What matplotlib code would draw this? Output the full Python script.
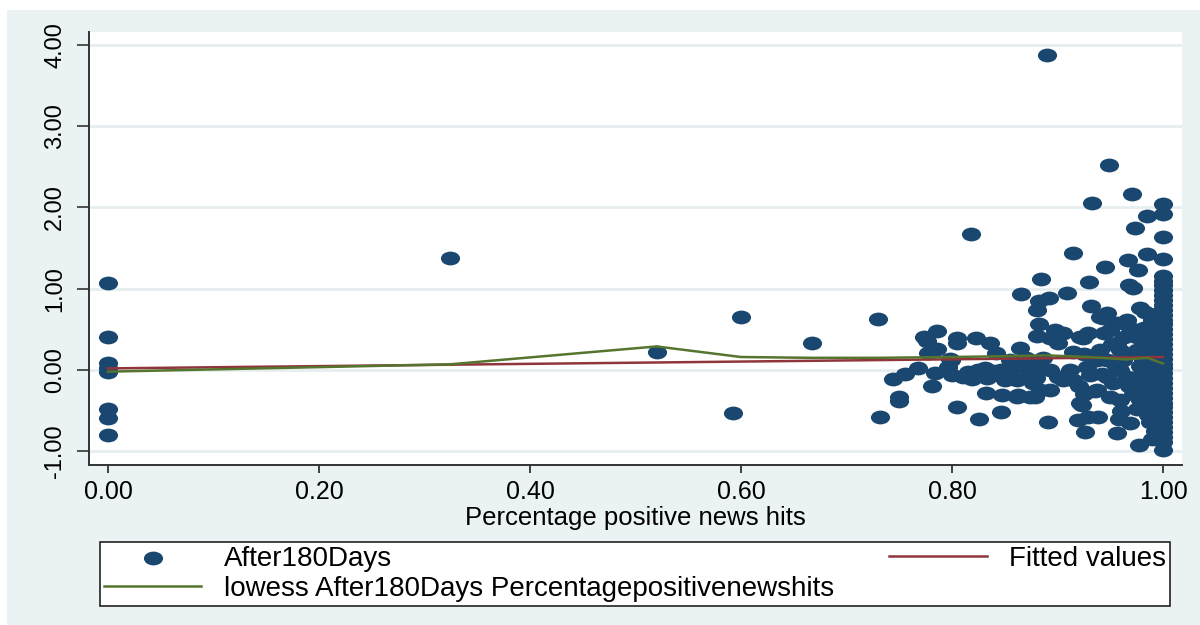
import matplotlib.pyplot as plt
import numpy as np
from matplotlib.path import Path
from matplotlib.patches import Rectangle

plt.rcParams['font.family'] = ['Liberation Sans', 'DejaVu Sans']

# share of positive news hits (x) and return after 180 days (y)
pct_hits = [0.0, 0.0, 0.0, 0.0, 0.0, 0.0, 0.0, 0.0,
            0.324, 0.520, 0.592, 0.600, 0.667, 0.730, 0.732, 0.744, 0.755, 0.750, 0.750, 0.768,
            0.773, 0.776, 0.786, 0.777, 0.786, 0.781, 0.784, 0.799, 0.796, 0.798,
            0.805, 0.805, 0.805, 0.810, 0.819, 0.800, 0.818, 0.823, 0.826, 0.832,
            0.836, 0.831, 0.834, 0.833, 0.839, 0.846, 0.847, 0.842, 0.846, 0.850,
            0.858, 0.862, 0.862, 0.864, 0.865, 0.863, 0.867, 0.871, 0.877, 0.879,
            0.881, 0.881, 0.882, 0.881, 0.882, 0.884, 0.883, 0.874, 0.890, 0.892,
            0.898, 0.900, 0.893, 0.891, 0.893, 0.893, 0.900, 0.905, 0.905, 0.909,
            0.912, 0.915, 0.915, 0.919, 0.921, 0.923, 0.924, 0.926, 0.928, 0.929,
            0.929, 0.930, 0.931, 0.932, 0.933, 0.936, 0.937, 0.937, 0.938, 0.943,
            0.945, 0.947, 0.947, 0.947, 0.949, 0.950, 0.953, 0.956, 0.956, 0.956,
            0.958, 0.959, 0.959, 0.959, 0.962, 0.966, 0.966, 0.967, 0.969, 0.969,
            0.971, 0.972, 0.968, 0.973, 0.975, 0.975, 0.976, 0.977, 0.978, 0.978,
            0.981, 0.981, 0.981, 0.983, 0.985, 0.985, 0.985, 0.985, 0.986, 0.986,
            0.988, 0.921, 0.940, 0.950, 0.920, 0.925, 0.942, 0.955, 0.970, 0.965,
            0.972, 0.940, 0.925, 0.915, 0.880, 0.886, 0.870, 0.855, 0.825, 0.815,
            0.992, 0.992, 0.992, 0.992, 0.992, 0.992, 0.990, 0.990, 0.990, 0.990,
            0.975, 0.975, 0.978, 0.980, 0.982, 0.984, 0.987, 0.990, 0.994, 0.994,
            0.994, 0.994, 0.996, 0.996, 0.996, 0.963, 0.968, 0.960, 0.952, 0.944,
            1.0, 1.0, 1.0, 1.0, 1.0, 1.0, 1.0, 1.0, 1.0, 1.0,
            1.0, 1.0, 1.0, 1.0, 1.0, 1.0, 1.0, 1.0, 1.0, 1.0,
            1.0, 1.0, 1.0, 1.0, 1.0, 1.0, 1.0, 1.0, 1.0, 1.0,
            1.0, 1.0, 1.0, 1.0, 1.0, 1.0, 1.0, 1.0, 1.0, 1.0]
after180 = [1.07, 0.41, 0.09, 0.02, -0.02, -0.48, -0.59, -0.80,
            1.38, 0.22, -0.53, 0.65, 0.33, 0.63, -0.58, -0.11, -0.05, -0.33, -0.38, 0.02,
            0.41, 0.36, 0.48, 0.21, 0.26, -0.20, -0.04, 0.12, 0.04, 0.14,
            0.39, 0.33, -0.46, -0.09, -0.11, -0.06, 1.67, 0.39, -0.60, -0.28,
            0.33, 0.02, -0.06, -0.10, -0.01, -0.52, -0.31, 0.21, 0.00, -0.12,
            0.02, -0.33, -0.12, 0.27, 0.93, -0.31, 0.06, -0.09, -0.16, -0.33,
            0.04, 0.74, 0.57, 0.42, 0.85, 1.12, -0.25, -0.33, 3.87, 0.89,
            0.49, 0.33, 0.39, -0.64, -0.25, 0.00, -0.09, 0.46, -0.12, 0.95,
            0.00, 1.44, -0.12, -0.62, -0.41, -0.43, 0.39, -0.76, 0.04, 0.46,
            -0.58, 1.08, -0.06, 0.79, 2.05, -0.26, 0.12, -0.25, -0.58, 0.64,
            1.27, 0.70, 0.12, -0.09, 2.52, -0.33, -0.16, 0.58, 0.33, -0.77,
            -0.60, 0.25, 0.00, -0.37, 0.12, 0.62, -0.09, 1.35, 0.52, -0.65,
            2.17, 1.01, 1.05, 1.75, 0.41, -0.09, 1.23, -0.92, 0.76, -0.37,
            0.37, 0.12, -0.21, 0.71, 1.89, 1.43, 0.00, -0.33, 0.18, -0.55,
            -0.64, 0.41, 0.65, 0.49, -0.20, -0.30, -0.05, 0.05, -0.20, 0.20,
            -0.30, 0.25, 0.20, 0.22, -0.10, 0.15, 0.15, 0.12, 0.00, -0.03,
            0.45, 0.30, 0.05, -0.15, -0.45, -0.75, 0.62, 0.22, -0.28, -0.85,
            0.25, -0.48, 0.05, -0.12, 0.52, -0.42, 0.32, -0.05, 0.58, 0.38,
            -0.22, -0.58, 0.12, -0.35, 0.70, 0.40, -0.20, -0.50, 0.32, 0.45,
            2.04, 1.92, 1.64, 1.37, 1.16, 1.10, 1.04, 0.98, 0.92, 0.86,
            0.80, 0.74, 0.68, 0.62, 0.56, 0.50, 0.44, 0.38, 0.32, 0.26,
            0.20, 0.14, 0.08, 0.02, -0.04, -0.10, -0.16, -0.22, -0.28, -0.34,
            -0.40, -0.46, -0.52, -0.58, -0.64, -0.70, -0.76, -0.82, -0.88, -0.98]

# linear fit
fit_x = [0.0, 1.0]
fit_y = [0.02, 0.16]

# lowess smoother
lowess_x = [0.0, 0.324, 0.520, 0.600, 0.667, 0.730, 0.800, 0.850, 0.890, 0.930, 0.965, 0.985, 1.0]
lowess_y = [-0.02, 0.07, 0.29, 0.16, 0.15, 0.15, 0.16, 0.17, 0.18, 0.16, 0.13, 0.15, 0.08]

x_ticks = [0.0, 0.2, 0.4, 0.6, 0.8, 1.0]
y_ticks = [-1, 0, 1, 2, 3, 4]

navy = '#1a476f'
maroon = '#90353b'
green = '#55752f'
bg = '#eaf2f3'

fig = plt.figure(figsize=(12, 6.25), dpi=100)
fig.patch.set_facecolor('white')
fig.patches.append(Rectangle((7/1200, 0), 1 - 7/1200, 1 - 10/625, transform=fig.transFigure,
                             facecolor=bg, edgecolor='none', zorder=-10))

ax = fig.add_axes([89/1200, 1 - 465/625, (1182 - 89)/1200, (465 - 32)/625])
ax.set_facecolor('white')

# stretched ellipse marker like the stata output
circ = Path.unit_circle()
ell = Path(circ.vertices * np.array([1.0, 0.72]), circ.codes)

ax.scatter(pct_hits, after180, s=13.8**2, marker=ell, color=navy, linewidths=0,
           zorder=3, label='After180Days')
ax.plot(fit_x, fit_y, color=maroon, lw=1.8, zorder=4, label='Fitted values')
ax.plot(lowess_x, lowess_y, color=green, lw=1.8, zorder=5,
        label='lowess After180Days Percentagepositivenewshits')

ax.set_xlim(-0.018, 1.018)
ax.set_ylim(-1.168, 4.157)
ax.set_xticks(x_ticks)
ax.set_yticks(y_ticks)
ax.set_xticklabels(['%.2f' % v for v in x_ticks], fontsize=18)
ax.set_yticklabels(['%.2f' % v for v in y_ticks], fontsize=17, rotation=90, va='center')
ax.tick_params(axis='y', length=8.5, width=1.2, pad=8, color='#333333')
ax.tick_params(axis='x', length=6, width=1.2, pad=5, color='#222222')
ax.yaxis.grid(True, color='#e6eef0', lw=2)
ax.set_axisbelow(True)
for s in ['top', 'right']:
    ax.spines[s].set_visible(False)
for s in ['left', 'bottom']:
    ax.spines[s].set_color('#333333')
    ax.spines[s].set_linewidth(1.4)

ax.set_xlabel('Percentage positive news hits', fontsize=18.5, labelpad=1)

h, l = ax.get_legend_handles_labels()
leg = fig.legend([h[0], h[2], h[1]], [l[0], l[2], l[1]], ncol=2, mode='expand',
                 loc='lower left',
                 bbox_to_anchor=(100/1200, 1 - 606/625, 1070/1200, 70/625),
                 fontsize=20, frameon=True, fancybox=False, framealpha=1, scatterpoints=1,
                 handlelength=3.5, borderaxespad=0, borderpad=0.15, labelspacing=0.15,
                 handletextpad=0.8)
leg.get_frame().set_edgecolor('#222222')
leg.get_frame().set_linewidth(1.2)

fig.savefig('out.png', dpi=100, facecolor=fig.get_facecolor())
